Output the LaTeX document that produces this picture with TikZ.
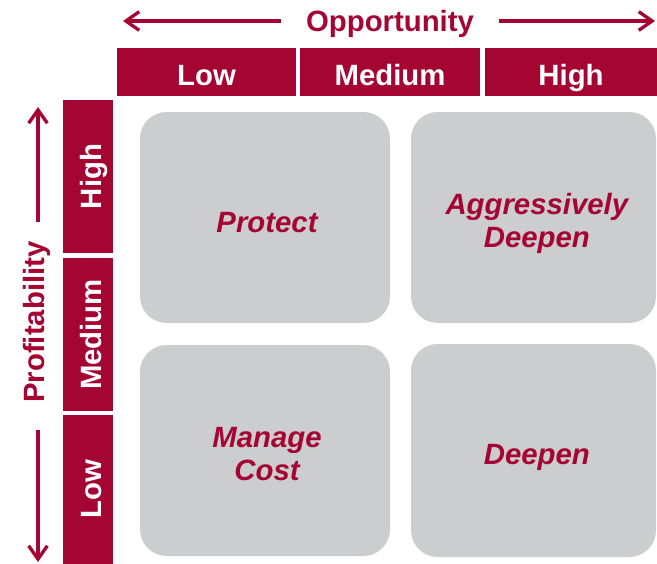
\documentclass[tikz,border=0pt]{standalone}
\usepackage{fontspec}
\setmainfont{Liberation Sans}
\usetikzlibrary{arrows.meta}
\definecolor{crim}{HTML}{A50533}
\definecolor{cellgray}{HTML}{CCCDCF}
\begin{document}
\begin{tikzpicture}[x=0.75pt,y=-0.75pt,
  hdr/.style={fill=crim, text=white, inner sep=0pt,
    text height=19.5pt, text depth=0pt,
    font=\bfseries\fontsize{22}{26}\selectfont},
  axislabel/.style={text=crim, inner sep=0pt,
    font=\bfseries\fontsize{22}{26}\selectfont},
  cell/.style={fill=cellgray, rounded corners=20pt, inner sep=0pt},
  celltext/.style={text=crim, align=center, inner sep=0pt,
    font=\bfseries\itshape\fontsize{22}{25}\selectfont},
  axisarrow/.style={draw=crim, line width=2.5pt,
    -{Straight Barb[length=10pt,width=14pt]}}]
\useasboundingbox (0,0) rectangle (657,564);

% column headers (opportunity)
\node[hdr, minimum width=179*0.75pt, minimum height=48*0.75pt] (cLow) at (206.5,72) {Low};
\node[hdr, minimum width=180*0.75pt, minimum height=48*0.75pt] (cMed) at (390,72) {Medium};
\node[hdr, minimum width=172*0.75pt, minimum height=48*0.75pt] (cHigh) at (571,72) {High};

% row headers (profitability)
\node[hdr, rotate=90, minimum width=153*0.75pt, minimum height=50*0.75pt] (rHigh) at (88,176.5) {High};
\node[hdr, rotate=90, minimum width=153*0.75pt, minimum height=50*0.75pt] (rMed) at (88,334.5) {Medium};
\node[hdr, rotate=90, minimum width=149*0.75pt, minimum height=50*0.75pt] (rLow) at (88,489.5) {Low};

% axis titles with arrows
\node[axislabel] (opp) at (390,24) {Opportunity};
\coordinate (oppLs) at (281,21);
\coordinate (oppL) at (123,21);
\coordinate (oppRs) at (499,21);
\coordinate (oppR) at (655,21);
\draw[axisarrow] (oppLs) -- (oppL);
\draw[axisarrow] (oppRs) -- (oppR);

\node[axislabel, rotate=90] (prof) at (37,322) {Profitability};
\coordinate (profTs) at (38,222);
\coordinate (profT) at (38,107);
\coordinate (profBs) at (38,430);
\coordinate (profB) at (38,562);
\draw[axisarrow] (profTs) -- (profT);
\draw[axisarrow] (profBs) -- (profB);

% strategy cells
\node[cell, minimum width=250*0.75pt, minimum height=211*0.75pt] (protect) at (265,217.5) {};
\node[cell, minimum width=245*0.75pt, minimum height=211*0.75pt] (aggr) at (533.5,217.5) {};
\node[cell, minimum width=250*0.75pt, minimum height=211*0.75pt] (manage) at (265,450.5) {};
\node[cell, minimum width=245*0.75pt, minimum height=213*0.75pt] (deepen) at (533.5,450.5) {};

\node[celltext] (protectT) at ([shift={(1.5pt,-3.5pt)}]protect.center) {Protect};
\node[celltext] (aggrT) at ([shift={(2.5pt,-4.5pt)}]aggr.center) {Aggressively\\Deepen};
\node[celltext] (manageT) at ([shift={(1.5pt,-2.5pt)}]manage.center) {Manage\\Cost};
\node[celltext] (deepenT) at ([shift={(2.5pt,-5.5pt)}]deepen.center) {Deepen};
\end{tikzpicture}
\end{document}
